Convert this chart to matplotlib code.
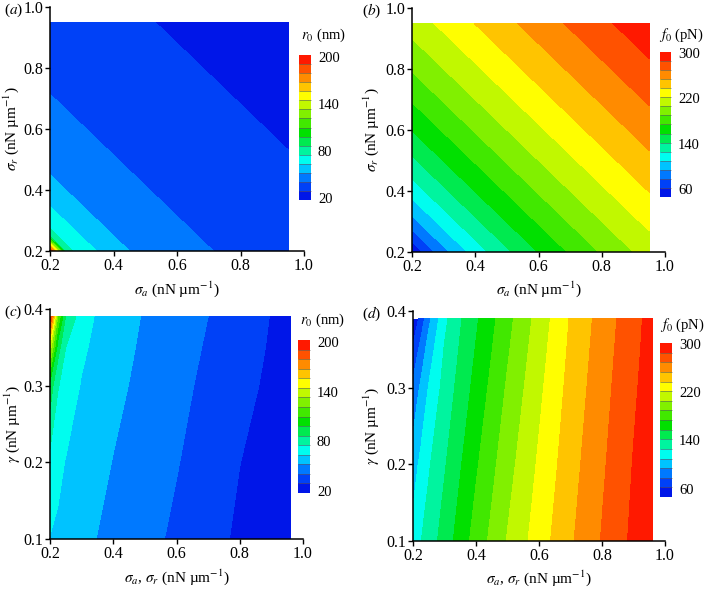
import numpy as np
import matplotlib
matplotlib.use("Agg")
import matplotlib.pyplot as plt
from matplotlib.colors import LinearSegmentedColormap
from matplotlib.ticker import FormatStrFormatter

plt.rcParams['font.family'] = ['Liberation Serif', 'DejaVu Serif']
plt.rcParams['mathtext.fontset'] = 'stix'
plt.rcParams['font.size'] = 10

# ------------------------------------------------------------------ #
# Panels (a), (b): fields depend only on sigma_a + sigma_r
# ------------------------------------------------------------------ #
sigma_grid = [0.20, 0.25, 0.30, 0.35, 0.40, 0.45, 0.50, 0.55,
              0.60, 0.65, 0.70, 0.75, 0.80, 0.85, 0.90, 0.95]
# sigma_a + sigma_r = 0.40, 0.45, ... 1.90
r0_vs_sum = [200, 80, 70, 63.5, 57.5, 52.5, 49.5, 47, 45, 43, 41.4,
             40, 38.6, 37.4, 36.3, 35.3, 34.4, 33.5, 32.6, 31.8, 31,
             30, 29.2, 28.6, 28, 27.4, 26.9, 26.4, 25.9, 25.5, 25.1]
f0_vs_sum = [47, 70, 88.5, 103.5, 116.5, 128.5, 139, 149, 158.5, 167.5,
             175.5, 183.5, 191.5, 199, 206, 213, 219.5, 226, 232, 238.5,
             244.5, 250, 256, 261.5, 267, 272, 277.5, 282.5, 287.5, 292.5,
             297.5]

# ------------------------------------------------------------------ #
# Panels (c), (d): sigma_a = sigma_r on x, gamma on y
# ------------------------------------------------------------------ #
sigma_cd = [0.2, 0.225, 0.25, 0.3, 0.35, 0.4, 0.5, 0.6, 0.7, 0.8, 0.9, 0.96]
gamma = [0.1, 0.2, 0.3, 0.35, 0.39]
r0_c = [
    [63.6, 61.7, 59.8, 55.9, 52.2, 49.6, 44.4, 38.9, 32.8, 27.9, 24.2, 22.0],
    [71.7, 67.1, 63.4, 59.5, 55.7, 52.1, 46.8, 41.6, 35.7, 29.6, 25.9, 23.7],
    [93.7, 76.2, 71.1, 63.1, 59.3, 55.4, 49.3, 44.0, 38.5, 32.4, 27.6, 25.4],
    [139.5, 92.1, 75.4, 66.1, 61.0, 57.2, 50.5, 45.3, 39.9, 33.8, 28.5, 26.3],
    [200, 120, 86, 69.6, 62.5, 58.6, 51.5, 46.2, 41.0, 35.0, 29.1, 26.9],
]
f0_d = [
    [116, 125.6, 133.2, 149.1, 165.2, 180.3, 207.1, 230, 251.8, 271, 289.5, 299.5],
    [102.6, 113.9, 124.2, 140.4, 156.6, 171.8, 199.9, 224.3, 247.6, 267.5, 286.8, 296.5],
    [81.6, 96.8, 111.1, 131.7, 147.8, 163.3, 192.1, 218.4, 243.3, 263.9, 283.7, 293.8],
    [64.9, 83.5, 101.1, 127.1, 143.7, 159, 188, 215.1, 241.1, 262, 282.1, 292.5],
    [47, 68.2, 89.8, 122, 140.3, 155.6, 184.8, 212.3, 239.3, 260.5, 280.7, 292],
]

r0_levels = np.linspace(18, 202, 17)
f0_levels = np.linspace(46, 302, 17)
r0_ticks = [20, 80, 140, 200]
f0_ticks = [60, 140, 220, 300]

cmap = LinearSegmentedColormap.from_list("small_rainbow", [
    (0.00, (0.0, 0.0, 0.88)),
    (0.13, (0.0, 0.35, 1.0)),
    (0.27, (0.0, 1.0, 1.0)),
    (0.47, (0.0, 0.88, 0.0)),
    (0.72, (1.0, 1.0, 0.0)),
    (0.86, (1.0, 0.5, 0.0)),
    (1.00, (1.0, 0.0, 0.0)),
])

W, H = 707, 589
fig = plt.figure(figsize=(W / 100, H / 100), dpi=100)


def px_axes(left, top, right, bottom):
    return fig.add_axes([left / W, 1 - bottom / H, (right - left) / W, (bottom - top) / H])


def style_axes(ax, yticks, ylim):
    ax.set_xlim(0.2, 1.0)
    ax.set_ylim(*ylim)
    ax.set_xticks([0.2, 0.4, 0.6, 0.8, 1.0])
    ax.set_yticks(yticks)
    ax.xaxis.set_major_formatter(FormatStrFormatter('%.1f'))
    ax.yaxis.set_major_formatter(FormatStrFormatter('%.1f'))
    for s in ['top', 'right']:
        ax.spines[s].set_visible(False)
    for s in ['left', 'bottom']:
        ax.spines[s].set_linewidth(1.1)
        ax.spines[s].set_zorder(5)
    ax.tick_params(direction='out', length=3.5, width=1, labelsize=11.5, pad=1.5)
    ax.set_facecolor('none')


def add_cbar(cs, rect, ticks, title, title_xy):
    cax = px_axes(*rect)
    cb = fig.colorbar(cs, cax=cax, ticks=ticks, drawedges=True)
    cb.outline.set_visible(False)
    cb.dividers.set_color('0.35')
    cb.dividers.set_linewidth(0.4)
    cax.tick_params(length=0, labelsize=10.5, pad=5)
    fig.text(title_xy[0] / W, 1 - title_xy[1] / H, title, ha='center', va='center', fontsize=10.5)


panels = [
    dict(box=(50, 7, 304, 251), kind='sum', prof=r0_vs_sum, lev=r0_levels,
         ticks=r0_ticks, cb=(299, 55, 311, 200), title=r'$r_0$ (nm)', txy=(323, 35),
         xl=r'$\sigma_a$ (nN µm$^{-1}$)', yl=r'$\sigma_r$ (nN µm$^{-1}$)',
         tag='a', tagx=4, xlab_top=279, ylab_right=21),
    dict(box=(412, 8, 665, 252), kind='sum', prof=f0_vs_sum, lev=f0_levels,
         ticks=f0_ticks, cb=(660, 52, 671, 197), title=r'$f_0$ (pN)', txy=(681, 35),
         xl=r'$\sigma_a$ (nN µm$^{-1}$)', yl=r'$\sigma_r$ (nN µm$^{-1}$)',
         tag='b', tagx=362, xlab_top=279, ylab_right=381),
    dict(box=(50, 309, 303, 539), kind='grid', z=r0_c, lev=r0_levels,
         ticks=r0_ticks, cb=(298, 340, 310, 493), title=r'$r_0$ (nm)', txy=(322, 320),
         xl=r'$\sigma_a$, $\sigma_r$ (nN µm$^{-1}$)', yl=r'$\gamma$ (nN µm$^{-1}$)',
         tag='c', tagx=4, xlab_top=567, ylab_right=22),
    dict(box=(413, 311, 665, 541), kind='grid', z=f0_d, lev=f0_levels,
         ticks=f0_ticks, cb=(660, 343, 672, 497), title=r'$f_0$ (pN)', txy=(682, 325),
         xl=r'$\sigma_a$, $\sigma_r$ (nN µm$^{-1}$)', yl=r'$\gamma$ (nN µm$^{-1}$)',
         tag='d', tagx=362, xlab_top=568, ylab_right=381),
]

for p in panels:
    left, top, right, bottom = p['box']
    ax = px_axes(left, top, right, bottom)
    if p['kind'] == 'sum':
        n = len(sigma_grid)
        idx = np.add.outer(np.arange(n), np.arange(n))
        Z = np.asarray(p['prof'])[idx]
        cs = ax.contourf(sigma_grid, sigma_grid, Z, levels=p['lev'], cmap=cmap)
        style_axes(ax, [0.2, 0.4, 0.6, 0.8, 1.0], (0.2, 1.0))
    else:
        cs = ax.contourf(sigma_cd, gamma, np.asarray(p['z']), levels=p['lev'], cmap=cmap)
        style_axes(ax, [0.1, 0.2, 0.3, 0.4], (0.1, 0.4))
    ax.set_xlabel(p['xl'], fontsize=11)
    ax.set_ylabel(p['yl'], fontsize=11)
    ax.xaxis.set_label_coords(0.5, -(p['xlab_top'] - bottom) / (bottom - top))
    ax.yaxis.set_label_coords((p['ylab_right'] - left) / (right - left), 0.5)
    fig.text(p['tagx'] / W, 1 - (top + 3) / H, r'($\it{' + p['tag'] + '}$)',
             ha='left', va='center', fontsize=11)
    add_cbar(cs, p['cb'], p['ticks'], p['title'], p['txy'])

fig.savefig("out.png", dpi=100)
